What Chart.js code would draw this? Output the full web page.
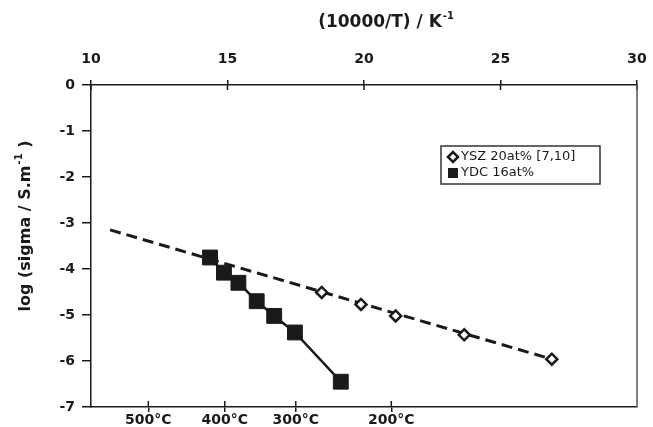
<!DOCTYPE html>
<html>
<head>
<meta charset="utf-8">
<script src="https://cdn.jsdelivr.net/npm/chart.js@4/dist/chart.umd.min.js"></script>
<style>
    body { margin: 0; background: #fff; }
    canvas { display: block; }
</style>
</head>
<body>
<canvas id="chart" width="653" height="427"></canvas>
<script>
// 10000/T values and log(sigma)
const yszX = [18.45, 19.89, 21.16, 23.67, 26.88]
const yszY = [-4.51, -4.77, -5.02, -5.43, -5.96]
const ydcX = [14.36, 14.87, 15.4, 16.07, 16.71, 17.47, 19.15]
const ydcY = [-3.75, -4.08, -4.3, -4.7, -5.02, -5.38, -6.45]
// dashed fit for YSZ
const fitX = [10.7, 26.88]
const fitY = [-3.15, -5.96]
// temperature marks on the bottom axis
const tempPos = [12.1, 14.9, 17.5, 21.0]
const tempLabels = ['500°C', '400°C', '300°C', '200°C']
const seriesNames = ['YSZ 20at% [7,10]', 'YDC 16at%']

const ink = '#1a1a1a'
const toPoints = (xs, ys) => xs.map((x, i) => ({ x: x, y: ys[i] }))

Chart.defaults.font.family = "'DejaVu Sans', sans-serif"
Chart.defaults.color = ink

const extras = {
    id: 'extras',
    afterDraw(chart) {
        const ctx = chart.ctx
        const area = chart.chartArea
        const sx = chart.scales.x
        const sb = chart.scales.x2
        ctx.save()
        ctx.strokeStyle = ink
        ctx.lineWidth = 1.5
        // inner half of the crossing tick marks
        ctx.beginPath()
        sx.ticks.forEach(t => {
            const px = sx.getPixelForValue(t.value)
            ctx.moveTo(px, area.top)
            ctx.lineTo(px, area.top + 5)
        })
        sb.ticks.forEach(t => {
            const px = sb.getPixelForValue(t.value)
            ctx.moveTo(px, area.bottom)
            ctx.lineTo(px, area.bottom - 6)
        })
        ctx.stroke()
        // right frame line
        ctx.strokeStyle = '#555'
        ctx.beginPath()
        ctx.moveTo(area.right, area.top)
        ctx.lineTo(area.right, area.bottom)
        ctx.stroke()

        // axis titles with superscripts
        ctx.fillStyle = ink
        ctx.textBaseline = 'middle'
        ctx.font = "bold 17px 'DejaVu Sans'"
        const topTitle = '(10000/T) / K'
        const tw = ctx.measureText(topTitle).width
        const tx = 380 - tw / 2
        ctx.textAlign = 'left'
        ctx.fillText(topTitle, tx, 23)
        ctx.font = "bold 10px 'DejaVu Sans'"
        ctx.fillText('-1', tx + tw + 1, 16)

        ctx.save()
        ctx.translate(26, 226)
        ctx.rotate(-Math.PI / 2)
        const p1 = 'log (sigma / S.m'
        const p2 = ' )'
        ctx.font = "bold 10px 'DejaVu Sans'"
        const supW = ctx.measureText('-1').width
        ctx.font = "bold 16px 'DejaVu Sans'"
        const w1 = ctx.measureText(p1).width
        const w2 = ctx.measureText(p2).width
        const total = w1 + supW + w2 + 1
        let cx = -total / 2
        ctx.fillText(p1, cx, 0)
        cx += w1 + 1
        ctx.font = "bold 10px 'DejaVu Sans'"
        ctx.fillText('-1', cx, -7)
        cx += supW
        ctx.font = "bold 16px 'DejaVu Sans'"
        ctx.fillText(p2, cx, 0)
        ctx.restore()

        // legend box
        ctx.strokeStyle = '#333'
        ctx.lineWidth = 1.5
        ctx.strokeRect(441, 146, 159, 38)
        ctx.fillStyle = '#fff'
        ctx.strokeStyle = ink
        ctx.lineWidth = 2.5
        ctx.beginPath()
        ctx.moveTo(448, 157)
        ctx.lineTo(453, 152)
        ctx.lineTo(458, 157)
        ctx.lineTo(453, 162)
        ctx.closePath()
        ctx.fill()
        ctx.stroke()
        ctx.fillStyle = ink
        ctx.fillRect(448, 168, 10, 10)
        ctx.font = "13px 'DejaVu Sans'"
        ctx.fillText(seriesNames[0], 461, 157)
        ctx.fillText(seriesNames[1], 461, 173)
        ctx.restore()
    },
}

const tickFont = { family: "'DejaVu Sans'", size: 14, weight: 'bold' }

new Chart(document.getElementById('chart'), {
    type: 'scatter',
    data: {
        datasets: [
            {
                label: seriesNames[0],
                data: toPoints(yszX, yszY),
                showLine: false,
                pointStyle: 'rectRot',
                pointRadius: 5.5,
                pointBorderWidth: 2.5,
                pointBackgroundColor: '#fff',
                pointBorderColor: ink,
            },
            {
                label: seriesNames[1],
                data: toPoints(ydcX, ydcY),
                showLine: true,
                borderColor: ink,
                borderWidth: 2.5,
                pointStyle: 'rect',
                pointRadius: 10.5,
                pointBorderWidth: 1,
                pointBackgroundColor: ink,
                pointBorderColor: ink,
            },
            {
                label: 'fit',
                data: toPoints(fitX, fitY),
                showLine: true,
                borderColor: ink,
                borderWidth: 3,
                borderDash: [11, 6],
                pointRadius: 0,
            },
        ],
    },
    options: {
        responsive: false,
        animation: false,
        layout: { padding: { right: 16 } },
        plugins: {
            legend: { display: false },
            tooltip: { enabled: false },
        },
        scales: {
            x: {
                type: 'linear',
                position: 'top',
                min: 10,
                max: 30,
                ticks: { stepSize: 5, font: tickFont, padding: 12 },
                grid: { drawOnChartArea: false, tickLength: 5, color: ink, lineWidth: 1.5 },
                border: { color: ink, width: 1.5 },
                afterFit: s => {
                    s.height = 85
                    s.paddingLeft = 0
                    s.paddingRight = 0
                },
            },
            x2: {
                type: 'linear',
                position: 'bottom',
                min: 10,
                max: 30,
                afterBuildTicks: axis => {
                    axis.ticks = tempPos.map(v => ({ value: v }))
                },
                ticks: {
                    font: tickFont,
                    padding: 0,
                    autoSkip: false,
                    maxRotation: 0,
                    callback: (v, i) => tempLabels[i],
                },
                grid: { drawOnChartArea: false, tickLength: 5, color: ink, lineWidth: 1.5 },
                border: { color: ink, width: 1.5 },
                afterFit: s => {
                    s.height = 20
                    s.paddingLeft = 0
                    s.paddingRight = 0
                },
            },
            y: {
                min: -7,
                max: 0,
                ticks: { stepSize: 1, font: tickFont, padding: 7 },
                grid: { drawOnChartArea: false, tickLength: 9, color: ink, lineWidth: 1.5 },
                border: { color: ink, width: 1.5 },
                afterFit: s => { s.width = 91 },
            },
        },
    },
    plugins: [extras],
})
</script>
</body>
</html>
